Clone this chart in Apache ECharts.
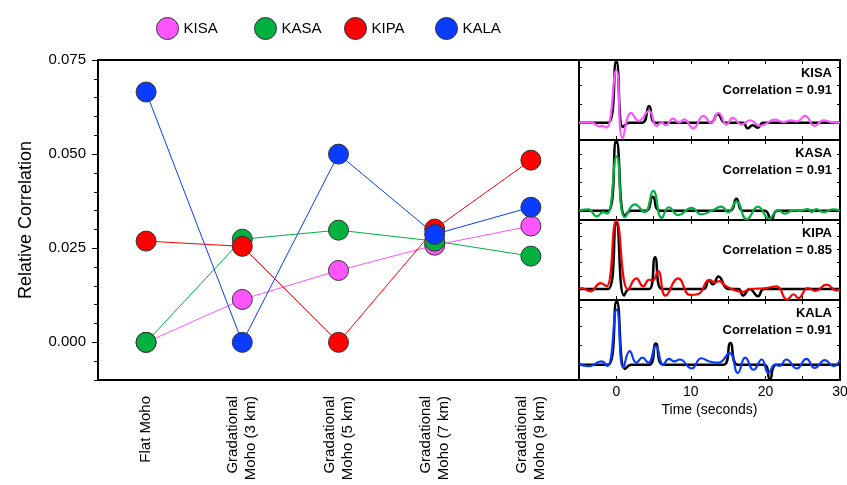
<!DOCTYPE html>
<html>
<head>
<meta charset="utf-8">
<script src="https://cdn.jsdelivr.net/npm/echarts@6.0.0/dist/echarts.min.js"></script>
<style>
html, body { margin: 0; padding: 0; background: #fff; }
#chart { width: 847px; height: 485px; }
</style>
</head>
<body>
<div id="chart"></div>
<script>
// categories of the main plot
var models = ['Flat Moho', 'Gradational\nMoho (3 km)', 'Gradational\nMoho (5 km)', 'Gradational\nMoho (7 km)', 'Gradational\nMoho (9 km)'];
var stations = ['KISA', 'KASA', 'KIPA', 'KALA'];
var colors = ['#ff55ff', '#00b140', '#ff0000', '#0a3cff'];

// relative correlation per model
var kisaValues = [0.000, 0.0114, 0.0191, 0.0258, 0.0309];
var kasaValues = [0.000, 0.0274, 0.0298, 0.0269, 0.0229];
var kipaValues = [0.0269, 0.0255, 0.000, 0.0301, 0.0484];
var kalaValues = [0.0665, 0.000, 0.0500, 0.0287, 0.0359];
var yTicks = [0, 0.025, 0.05, 0.075];

// waveform panel
var correlations = ['0.91', '0.91', '0.85', '0.91'];
var timeTicks = [0, 10, 20, 30];

// [time (s), amplitude] picked at turning points
var kisaBlack = [[-5,0],[-1.1,0],[0,1.0],[0.9,-0.07],[1.7,0],[3.5,0],[4.4,0.27],[5.3,0],[12.6,0],[13.6,0.14],[14.6,0],[17.0,0],[17.6,-0.09],[18.3,-0.04],[19.0,-0.08],[19.7,0],[30,0]];
var kisaColor = [[-5,0],[-3.3,0],[-2.3,-0.06],[-1.9,-0.05],[-1.3,-0.08],[0,0.85],[0.85,-0.25],[2.0,0.16],[3.0,0.03],[4.4,0.19],[5.4,-0.05],[6.1,0.0],[6.6,-0.04],[7.6,0.065],[8.4,0.0],[9.1,0.054],[10.3,-0.09],[11.7,0.11],[12.7,0.0],[13.7,0.16],[14.8,-0.03],[15.6,0.08],[16.8,-0.03],[17.9,0.04],[19.3,-0.05],[21.3,0.05],[22.4,0.01],[23.4,0.04],[24.2,0.02],[25.3,0.11],[26.6,-0.05],[27.8,0.04],[28.8,0.01],[30,0.0]];

var kasaBlack = [[-5,0],[-1.1,0],[0,1.0],[1.15,-0.07],[2.0,0],[4.0,0],[4.9,0.2],[5.9,0],[15.2,0],[16.1,0.17],[17.0,0],[19.9,0],[20.8,-0.12],[21.6,0],[30,0]];
var kasaColor = [[-5,0],[-3.75,0.02],[-2.6,-0.08],[-1.8,-0.02],[-1.2,-0.04],[0.05,0.77],[1.15,-0.09],[2.5,0.09],[3.8,-0.02],[4.95,0.28],[6.1,-0.1],[7.05,0.05],[8.3,-0.06],[10.1,0.04],[11.4,-0.05],[12.8,0],[14.1,0.06],[15.0,-0.02],[16.1,0.13],[17.5,-0.12],[19.0,0.06],[20.5,-0.11],[21.7,0.01],[22.6,-0.04],[23.8,0.01],[24.5,0.0],[25.7,0.025],[26.2,-0.02],[26.8,0.025],[27.8,-0.02],[29.0,0.02],[30,0]];

var kipaBlack = [[-5,0],[-1.1,0],[0,1.0],[1.05,-0.1],[1.8,0],[4.4,0],[5.2,0.48],[6.1,0],[11.7,0],[12.4,0.13],[12.95,0.07],[13.7,0.19],[15.0,0],[16.4,0],[17.0,-0.1],[17.9,0],[19.0,-0.11],[19.8,0],[30,0]];
var kipaColor = [[-5,0],[-4.7,0.015],[-3.5,-0.035],[-2.1,0.09],[-1.3,0.04],[0,1.035],[1.6,-0.01],[2.7,0.16],[3.6,0.04],[4.4,0.14],[4.9,0.13],[5.6,0.27],[6.6,-0.1],[8.3,0.16],[9.9,-0.09],[11.0,-0.075],[12.5,0.14],[13.2,0.1],[13.8,0.12],[14.5,0.06],[15.7,-0.01],[17.0,-0.045],[17.9,0.0],[19.0,0.005],[20.2,0.015],[21.5,0.04],[22.9,-0.16],[23.8,-0.08],[24.4,-0.14],[25.7,0.015],[26.7,-0.03],[28.2,0.065],[29.5,-0.02],[30,-0.01]];

var kalaBlack = [[-5,0],[-1.1,0],[0.05,1.0],[1.15,-0.07],[2.0,0],[4.4,0],[5.3,0.33],[6.3,0],[14.4,0],[15.3,0.34],[16.3,0],[19.8,0],[20.6,-0.23],[21.5,0],[30,0]];
var kalaColor = [[-5,0.01],[-3.75,-0.025],[-2.0,0.05],[-1.2,-0.025],[0.05,0.86],[0.95,-0.05],[1.8,0.21],[2.7,0.03],[3.5,0.11],[4.3,0.03],[5.3,0.29],[6.3,0],[7.05,0.09],[7.8,0.05],[8.5,0.08],[10.1,-0.06],[11.4,0.1],[12.5,0.05],[13.7,0.03],[15.2,0.18],[16.3,-0.13],[17.3,0.11],[18.4,-0.08],[19.5,0.08],[20.4,-0.13],[21.3,0.0],[21.9,-0.02],[22.8,0.08],[24.2,-0.06],[25.5,0.09],[26.6,-0.05],[28.0,0.07],[29.1,-0.025],[30,0.07]];

var mainValues = [kisaValues, kasaValues, kipaValues, kalaValues];
var blackTraces = [kisaBlack, kasaBlack, kipaBlack, kalaBlack];
var colorTraces = [kisaColor, kasaColor, kipaColor, kalaColor];

var font = '"Liberation Sans", Arial, Helvetica, sans-serif';
// panel amplitude limits (baseline offset per panel)
var panelRange = [[-0.28, 1.016], [-0.13, 1.0], [-0.167, 1.045], [-0.24, 1.01]];
var legendLeft = [151, 249, 339, 430];

var grids = [{ left: 98, top: 60, width: 481, height: 320, outerBoundsMode: 'none' }];
var xAxes = [{
    gridIndex: 0, type: 'category', data: models, position: 'bottom', boundaryGap: true,
    axisLine: { onZero: false, lineStyle: { color: '#000', width: 2 } },
    axisTick: { alignWithLabel: true, length: 6, lineStyle: { color: '#000' } },
    axisLabel: { rotate: 90, interval: 0, fontSize: 15, lineHeight: 18, color: '#000', margin: 16, fontFamily: font },
    splitLine: { show: false }
}, {
    gridIndex: 0, type: 'category', data: models, position: 'top', boundaryGap: true,
    axisLine: { onZero: false, lineStyle: { color: '#000', width: 2 } },
    axisTick: { alignWithLabel: true, length: 7, lineStyle: { color: '#000' } },
    axisLabel: { show: false },
    splitLine: { show: false }
}];
var yAxes = [{
    gridIndex: 0, type: 'value', min: -0.01, max: 0.075, position: 'left',
    axisLine: { show: true, lineStyle: { color: '#000', width: 2 } },
    axisTick: { show: true, customValues: yTicks, length: 6, lineStyle: { color: '#000' } },
    axisLabel: { customValues: yTicks, formatter: function (v) { return v.toFixed(3); }, fontSize: 15, color: '#000', margin: 12, fontFamily: font },
    splitLine: { show: false },
    name: 'Relative Correlation', nameLocation: 'middle', nameGap: 63,
    nameTextStyle: { fontSize: 18, color: '#000', fontFamily: font }
}, {
    gridIndex: 0, type: 'value', min: -0.01, max: 0.075, interval: 0.005, position: 'left',
    axisLine: { show: false },
    axisTick: { show: true, length: 4, lineStyle: { color: '#000' } },
    axisLabel: { show: false },
    splitLine: { show: false }
}];
var series = [];

// 主图折线
for (var i = 0; i < 4; i++) {
    series.push({
        name: stations[i],
        type: 'line',
        xAxisIndex: 0,
        yAxisIndex: 0,
        data: mainValues[i],
        symbol: 'circle',
        symbolSize: 20,
        itemStyle: { color: colors[i], borderColor: '#333', borderWidth: 1 },
        lineStyle: { color: colors[i], width: 1 },
        z: 3 + i
    });
}

// 波形面板
for (var p = 0; p < 4; p++) {
    var g = p + 1;
    grids.push({ left: 579, top: 60 + p * 80, width: 261, height: 80, outerBoundsMode: 'none' });
    var last = p === 3;
    xAxes.push({
        gridIndex: g, type: 'value', min: -5, max: 30, interval: 5, position: 'bottom',
        axisLine: { onZero: false, lineStyle: { color: '#000', width: 2 } },
        axisTick: { inside: true, length: 4, lineStyle: { color: '#000' } },
        axisLabel: last ? { customValues: timeTicks, fontSize: 14, color: '#000', margin: 5, fontFamily: font } : { show: false },
        splitLine: { show: false },
        name: last ? 'Time (seconds)' : '',
        nameLocation: 'middle', nameGap: 23,
        nameTextStyle: { fontSize: 14, color: '#000', fontFamily: font }
    });
    xAxes.push({
        gridIndex: g, type: 'value', min: -5, max: 30, interval: 5, position: 'top',
        axisLine: { onZero: false, lineStyle: { color: '#000', width: 2 } },
        axisTick: { inside: true, length: 4, lineStyle: { color: '#000' } },
        axisLabel: { show: false },
        splitLine: { show: false }
    });
    ['left', 'right'].forEach(function (pos) {
        yAxes.push({
            gridIndex: g, type: 'value', min: panelRange[p][0], max: panelRange[p][1], splitNumber: 5, position: pos,
            axisLine: { show: true, onZero: false, lineStyle: { color: '#000', width: 2 } },
            axisTick: { show: true, inside: true, length: 3, lineStyle: { color: '#000' } },
            axisLabel: { show: false },
            splitLine: { show: false }
        });
    });
    series.push({
        name: stations[p] + ' black',
        type: 'line',
        xAxisIndex: 2 + p * 2,
        yAxisIndex: 2 + p * 2,
        data: blackTraces[p],
        symbol: 'none',
        smooth: 0.5,
        clip: false,
        lineStyle: { color: '#000', width: 2.5 },
        z: 10
    });
    series.push({
        name: stations[p] + ' trace',
        type: 'line',
        xAxisIndex: 2 + p * 2,
        yAxisIndex: 2 + p * 2,
        data: colorTraces[p],
        symbol: 'none',
        smooth: 0.5,
        clip: false,
        lineStyle: { color: colors[p], width: 2.2 },
        z: 11
    });
}

var legends = stations.map(function (s, i) {
    return {
        data: [s],
        left: legendLeft[i],
        top: 12,
        orient: 'horizontal',
        icon: 'circle',
        itemWidth: 22,
        itemHeight: 22,
        selectedMode: false,
        itemStyle: { borderColor: '#333', borderWidth: 1 },
        textStyle: { fontSize: 15, color: '#000', fontFamily: font }
    };
});

var texts = [];
stations.forEach(function (s, i) {
    texts.push({
        type: 'text', x: 832, y: 73 + i * 80, z: 100,
        style: { text: s, align: 'right', verticalAlign: 'middle', font: 'bold 13px ' + font, fill: '#000' }
    });
    texts.push({
        type: 'text', x: 832, y: 90 + i * 80, z: 100,
        style: { text: 'Correlation = ' + correlations[i], align: 'right', verticalAlign: 'middle', font: 'bold 13px ' + font, fill: '#000' }
    });
});

var dom = echarts.init(document.getElementById('chart'), null, { renderer: 'canvas' });
dom.setOption({
    animation: false,
    backgroundColor: '#fff',
    textStyle: { fontFamily: font },
    legend: legends,
    grid: grids,
    xAxis: xAxes,
    yAxis: yAxes,
    series: series,
    graphic: texts
});
</script>
</body>
</html>
